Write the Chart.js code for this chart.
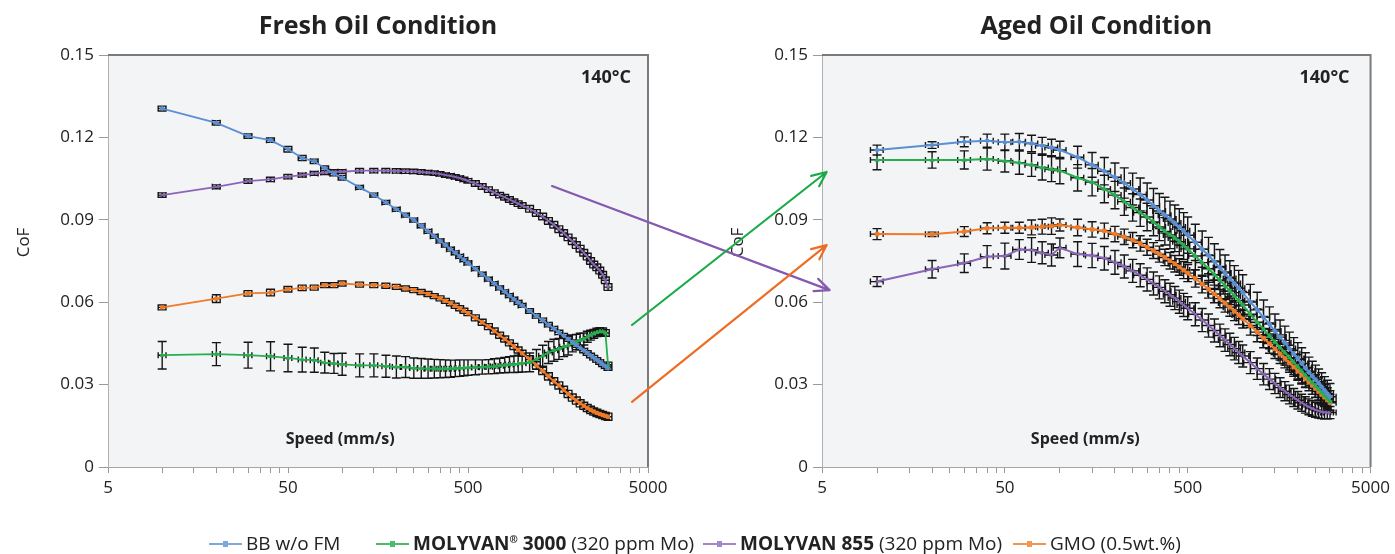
<!DOCTYPE html>
<html>
<head>
<meta charset="UTF-8">
<title>CoF vs Speed - fresh and aged oil</title>
<script src="https://cdn.jsdelivr.net/npm/chart.js@4.4.1/dist/chart.umd.min.js"></script>
<style>
  body { margin: 0; background: #fff; font-family: 'Open Sans', sans-serif; }
  #wrap { position: relative; width: 1395px; height: 554px; overflow: hidden; }
  canvas { position: absolute; top: 0; }
  #fresh { left: 0; }
  #aged { left: 700px; }
  #arrows { left: 0; pointer-events: none; }
  .item { position: absolute; top: 531px; height: 24px; font-size: 19px; color: #222; white-space: nowrap; line-height: 24px; }
  .item sup { font-size: 10px; line-height: 0; vertical-align: 7px; }
  .sw { display: inline-block; position: relative; width: 33px; height: 2px; vertical-align: middle; margin-right: 4px; margin-top: -2px; }
  .sw::after { content: ''; position: absolute; left: 14px; top: -2px; width: 5px; height: 6px; background: inherit; }
</style>
</head>
<body>
<div id="wrap">
  <canvas id="fresh" width="700" height="510"></canvas>
  <canvas id="aged" width="695" height="510"></canvas>
  <canvas id="arrows" width="1395" height="554"></canvas>

  <span class="item" style="left:209px"><i class="sw" style="background:#7ea8dd"></i>BB w/o FM</span>
  <span class="item" style="left:376px"><i class="sw" style="background:#4cbc6c"></i><b>MOLYVAN<sup>®</sup> 3000</b> (320 ppm Mo)</span>
  <span class="item" style="left:703px"><i class="sw" style="background:#a387cc"></i><b>MOLYVAN 855</b> (320 ppm Mo)</span>
  <span class="item" style="left:1013px"><i class="sw" style="background:#f5954f"></i>GMO (0.5wt.%)</span>
</div>

<script>
  // speeds in mm/s (same sweep for all runs)
  const speeds = [10,20,30,40,50,60,70,80,90,100,
    125,150,175,200,225,250,275,300,325,350,375,400,425,450,475,500,
    550,600,650,700,750,800,850,900,950,1000,
    1100,1200,1300,1400,1500,1600,1700,1800,1900,2000,2100,2200,2300,2400,2500,2600,2700,2800,2900,3000];

  const xTicks = [5,10,15,20,25,30,35,40,45,50,100,150,200,250,300,350,400,450,500,
    1000,1500,2000,2500,3000,3500,4000,4500,5000];
  const xTickLabels = [5, 50, 500, 5000];
  const yTicks = [0, 0.03, 0.06, 0.09, 0.12, 0.15];
  const yTickLabels = ['0', '0.03', '0.06', '0.09', '0.12', '0.15'];

  // ---- fresh oil ----
  const freshBB = [0.1305,0.1253,0.1205,0.1190,0.1157,0.1125,0.1113,0.1088,0.1068,0.1053,
    0.1018,0.0990,0.0963,0.0938,0.0917,0.0899,0.0878,0.0858,0.0840,0.0823,0.0808,0.0793,0.0780,0.0767,0.0755,0.0743,
    0.0722,0.0702,0.0684,0.0668,0.0652,0.0638,0.0624,0.0611,0.0599,0.0588,
    0.0568,0.0550,0.0534,0.0518,0.0504,0.0490,0.0478,0.0466,0.0455,0.0444,0.0434,0.0424,0.0415,0.0406,0.0398,0.0390,0.0382,0.0374,0.0367,0.0360];
  const freshBBErr = [0.0009,0.0008,0.0008,0.0008,0.0010,0.0009,0.0008,0.0008,0.0008,0.0008,
    0.0007,0.0007,0.0007,0.0007,0.0007,0.0007,0.0007,0.0007,0.0007,0.0007,0.0007,0.0007,0.0007,0.0007,0.0007,0.0007,
    0.0007,0.0007,0.0007,0.0007,0.0007,0.0007,0.0007,0.0007,0.0007,0.0007,
    0.0008,0.0008,0.0008,0.0008,0.0008,0.0008,0.0008,0.0008,0.0008,0.0008,0.0008,0.0008,0.0008,0.0008,0.0008,0.0008,0.0008,0.0008,0.0008,0.0008];

  const freshM3000 = [0.0407,0.0411,0.0407,0.0403,0.0397,0.0391,0.0389,0.0380,0.0377,0.0374,
    0.0370,0.0370,0.0367,0.0364,0.0364,0.0360,0.0359,0.0358,0.0358,0.0358,0.0358,0.0358,0.0359,0.0360,0.0361,0.0362,
    0.0363,0.0364,0.0365,0.0367,0.0369,0.0371,0.0373,0.0374,0.0376,0.0378,
    0.0381,0.0392,0.0405,0.0417,0.0425,0.0430,0.0438,0.0442,0.0450,0.0455,0.0462,0.0466,0.0474,0.0480,0.0485,0.0490,0.0493,0.0493,0.0488,0.0372];
  const freshM3000Err = [0.0050,0.0042,0.0047,0.0053,0.0050,0.0045,0.0044,0.0038,0.0036,0.0040,
    0.0042,0.0042,0.0040,0.0040,0.0038,0.0037,0.0036,0.0035,0.0034,0.0033,0.0032,0.0031,0.0030,0.0030,0.0029,0.0028,
    0.0027,0.0026,0.0026,0.0027,0.0027,0.0028,0.0029,0.0030,0.0031,0.0032,
    0.0034,0.0036,0.0038,0.0040,0.0040,0.0038,0.0036,0.0034,0.0031,0.0028,0.0025,0.0022,0.0020,0.0018,0.0016,0.0015,0.0014,0.0013,0.0012,0.0010];

  const freshM855 = [0.0990,0.1020,0.1041,0.1047,0.1057,0.1063,0.1069,0.1072,0.1075,0.1075,
    0.1079,0.1079,0.1079,0.1078,0.1077,0.1076,0.1074,0.1072,0.1070,0.1067,0.1063,0.1060,0.1056,0.1052,0.1047,0.1042,
    0.1032,0.1021,0.1010,0.0999,0.0990,0.0982,0.0974,0.0966,0.0959,0.0952,
    0.0940,0.0925,0.0912,0.0896,0.0882,0.0866,0.0852,0.0836,0.0822,0.0808,0.0795,0.0780,0.0766,0.0750,0.0737,0.0727,0.0715,0.0700,0.0680,0.0655];
  const freshM855Err = [0.0008,0.0007,0.0008,0.0008,0.0008,0.0007,0.0007,0.0007,0.0007,0.0007,
    0.0008,0.0008,0.0008,0.0008,0.0008,0.0008,0.0008,0.0008,0.0008,0.0008,0.0008,0.0008,0.0008,0.0008,0.0008,0.0008,
    0.0010,0.0010,0.0010,0.0010,0.0010,0.0010,0.0010,0.0010,0.0010,0.0010,
    0.0012,0.0012,0.0012,0.0012,0.0012,0.0012,0.0012,0.0012,0.0012,0.0012,0.0012,0.0012,0.0012,0.0012,0.0012,0.0012,0.0012,0.0012,0.0012,0.0012];

  const freshGMO = [0.0581,0.0613,0.0632,0.0635,0.0647,0.0652,0.0653,0.0662,0.0662,0.0668,
    0.0664,0.0662,0.0660,0.0656,0.0650,0.0644,0.0637,0.0630,0.0622,0.0614,0.0605,0.0596,0.0587,0.0578,0.0569,0.0560,
    0.0543,0.0527,0.0511,0.0495,0.0480,0.0466,0.0452,0.0439,0.0426,0.0414,
    0.0392,0.0370,0.0350,0.0330,0.0312,0.0297,0.0281,0.0266,0.0253,0.0242,0.0232,0.0223,0.0215,0.0208,0.0202,0.0197,0.0193,0.0189,0.0186,0.0183];
  const freshGMOErr = [0.0009,0.0014,0.0010,0.0012,0.0010,0.0010,0.0009,0.0009,0.0009,0.0009,
    0.0009,0.0009,0.0009,0.0009,0.0009,0.0009,0.0009,0.0009,0.0009,0.0009,0.0009,0.0009,0.0009,0.0009,0.0009,0.0009,
    0.0011,0.0011,0.0011,0.0011,0.0011,0.0011,0.0011,0.0011,0.0011,0.0011,
    0.0013,0.0013,0.0013,0.0013,0.0013,0.0013,0.0013,0.0013,0.0013,0.0013,0.0013,0.0013,0.0013,0.0013,0.0013,0.0013,0.0013,0.0013,0.0013,0.0013];

  // ---- aged oil ----
  const agedBB = [0.1154,0.1172,0.1184,0.1188,0.1182,0.1184,0.1178,0.1170,0.1163,0.1154,
    0.1128,0.1100,0.1077,0.1055,0.1034,0.1012,0.0992,0.0972,0.0951,0.0932,0.0917,0.0903,0.0888,0.0874,0.0860,0.0844,
    0.0818,0.0793,0.0770,0.0747,0.0726,0.0706,0.0686,0.0668,0.0651,0.0635,
    0.0601,0.0572,0.0545,0.0520,0.0495,0.0473,0.0452,0.0431,0.0412,0.0395,0.0377,0.0360,0.0345,0.0331,0.0318,0.0305,0.0292,0.0279,0.0267,0.0256];
  const agedBBErr = [0.0018,0.0012,0.0018,0.0024,0.0030,0.0030,0.0030,0.0030,0.0030,0.0032,
    0.0040,0.0045,0.0050,0.0052,0.0055,0.0058,0.0060,0.0062,0.0063,0.0064,0.0065,0.0065,0.0066,0.0066,0.0066,0.0066,
    0.0066,0.0066,0.0066,0.0066,0.0066,0.0066,0.0065,0.0065,0.0065,0.0065,
    0.0064,0.0064,0.0063,0.0063,0.0062,0.0062,0.0061,0.0060,0.0059,0.0058,0.0057,0.0056,0.0055,0.0054,0.0053,0.0052,0.0051,0.0050,0.0049,0.0048];

  const agedM3000 = [0.1118,0.1118,0.1118,0.1121,0.1114,0.1108,0.1100,0.1090,0.1084,0.1079,
    0.1053,0.1037,0.1012,0.0990,0.0966,0.0945,0.0926,0.0910,0.0892,0.0874,0.0858,0.0845,0.0834,0.0820,0.0806,0.0794,
    0.0768,0.0744,0.0722,0.0700,0.0680,0.0660,0.0641,0.0623,0.0606,0.0590,
    0.0556,0.0527,0.0501,0.0477,0.0455,0.0435,0.0416,0.0398,0.0381,0.0365,0.0349,0.0334,0.0320,0.0307,0.0295,0.0283,0.0271,0.0260,0.0249,0.0238];
  const agedM3000Err = [0.0036,0.0030,0.0033,0.0040,0.0040,0.0042,0.0042,0.0045,0.0045,0.0048,
    0.0048,0.0050,0.0050,0.0050,0.0050,0.0050,0.0050,0.0050,0.0050,0.0050,0.0050,0.0050,0.0050,0.0050,0.0050,0.0050,
    0.0050,0.0050,0.0050,0.0050,0.0050,0.0050,0.0050,0.0050,0.0049,0.0049,
    0.0048,0.0048,0.0047,0.0047,0.0046,0.0046,0.0045,0.0045,0.0044,0.0044,0.0043,0.0043,0.0042,0.0042,0.0041,0.0041,0.0040,0.0040,0.0040,0.0040];

  const agedM855 = [0.0675,0.0720,0.0742,0.0766,0.0768,0.0792,0.0790,0.0780,0.0772,0.0798,
    0.0775,0.0770,0.0760,0.0745,0.0730,0.0714,0.0698,0.0683,0.0668,0.0654,0.0640,0.0627,0.0615,0.0602,0.0590,0.0578,
    0.0556,0.0535,0.0515,0.0497,0.0479,0.0462,0.0446,0.0431,0.0417,0.0404,
    0.0380,0.0358,0.0338,0.0320,0.0304,0.0289,0.0276,0.0264,0.0253,0.0243,0.0234,0.0226,0.0219,0.0213,0.0208,0.0204,0.0201,0.0199,0.0198,0.0198];
  const agedM855Err = [0.0018,0.0032,0.0034,0.0040,0.0047,0.0036,0.0045,0.0040,0.0040,0.0036,
    0.0045,0.0044,0.0043,0.0043,0.0042,0.0042,0.0042,0.0042,0.0042,0.0042,0.0042,0.0042,0.0042,0.0042,0.0042,0.0042,
    0.0042,0.0042,0.0042,0.0042,0.0041,0.0041,0.0041,0.0041,0.0040,0.0040,
    0.0040,0.0039,0.0039,0.0038,0.0037,0.0036,0.0035,0.0034,0.0033,0.0032,0.0031,0.0030,0.0029,0.0028,0.0027,0.0026,0.0025,0.0024,0.0023,0.0022];

  const agedGMO = [0.0848,0.0847,0.0857,0.0869,0.0871,0.0871,0.0872,0.0875,0.0877,0.0881,
    0.0872,0.0865,0.0860,0.0848,0.0838,0.0826,0.0814,0.0800,0.0788,0.0775,0.0763,0.0751,0.0740,0.0728,0.0717,0.0706,
    0.0686,0.0666,0.0647,0.0630,0.0613,0.0597,0.0582,0.0567,0.0553,0.0540,
    0.0515,0.0491,0.0469,0.0449,0.0430,0.0412,0.0395,0.0379,0.0364,0.0349,0.0335,0.0322,0.0309,0.0297,0.0286,0.0275,0.0264,0.0254,0.0244,0.0234];
  const agedGMOErr = [0.0020,0.0008,0.0018,0.0020,0.0020,0.0020,0.0027,0.0027,0.0030,0.0022,
    0.0030,0.0028,0.0028,0.0028,0.0028,0.0028,0.0028,0.0029,0.0029,0.0029,0.0030,0.0030,0.0030,0.0030,0.0031,0.0031,
    0.0031,0.0032,0.0032,0.0032,0.0033,0.0033,0.0033,0.0034,0.0034,0.0034,
    0.0035,0.0035,0.0035,0.0035,0.0035,0.0035,0.0034,0.0034,0.0034,0.0033,0.0033,0.0033,0.0032,0.0032,0.0032,0.0031,0.0031,0.0030,0.0030,0.0030];

  // series look (first one is drawn on top)
  const seriesNames = ['BB w/o FM', 'MOLYVAN 3000 (320 ppm Mo)', 'MOLYVAN 855 (320 ppm Mo)', 'GMO (0.5wt.%)'];
  const seriesColors = ['#5b8fd4', '#27ae4f', '#8b66b8', '#f07a26'];
  const seriesMarkers = ['rectRot', 'triangle', 'crossRot', 'rect'];

  // arrows: [panel index, speed, CoF]
  const arrows = [
    { color: '#8559b0', from: [0, 1465, 0.1023], to: [1, 5.5, 0.0644] },
    { color: '#1aab48', from: [0, 4076, 0.0517], to: [1, 5.3, 0.1074] },
    { color: '#ee6d24', from: [0, 4076, 0.0237], to: [1, 5.3, 0.0808] }
  ];

  Chart.defaults.font.family = "'Open Sans', sans-serif";
  Chart.defaults.color = '#222';

  const panelPlugin = {
    id: 'panel',
    beforeDraw(chart, args, o) {
      const { ctx, chartArea: a } = chart;
      ctx.save();
      ctx.fillStyle = '#f3f4f6';
      ctx.fillRect(a.left, a.top, a.right - a.left, a.bottom - a.top);
      ctx.restore();
    },
    beforeDatasetsDraw(chart, args, o) {
      // error bars (y, and small x bars) under the lines
      const { ctx, chartArea: a, scales: { x, y } } = chart;
      ctx.save();
      ctx.beginPath();
      ctx.rect(a.left, a.top, a.right - a.left, a.bottom - a.top);
      ctx.clip();
      ctx.strokeStyle = '#151515';
      ctx.lineWidth = o.errWidth;
      ctx.beginPath();
      chart.data.datasets.forEach(ds => {
        ds.data.forEach((p, i) => {
          const e = ds.yErr[i];
          const px = x.getPixelForValue(p.x), py = y.getPixelForValue(p.y);
          const t = y.getPixelForValue(p.y + e), b = y.getPixelForValue(p.y - e);
          ctx.moveTo(px, t); ctx.lineTo(px, b);
          ctx.moveTo(px - o.cap, t); ctx.lineTo(px + o.cap, t);
          ctx.moveTo(px - o.cap, b); ctx.lineTo(px + o.cap, b);
          const l = x.getPixelForValue(p.x * (1 - o.xErr)), r = x.getPixelForValue(p.x * (1 + o.xErr));
          ctx.moveTo(l, py); ctx.lineTo(r, py);
          ctx.moveTo(l, py - 3); ctx.lineTo(l, py + 3);
          ctx.moveTo(r, py - 3); ctx.lineTo(r, py + 3);
        });
      });
      ctx.stroke();
      ctx.restore();
    },
    afterDraw(chart, args, o) {
      const { ctx, chartArea: a } = chart;
      ctx.save();
      ctx.strokeStyle = '#7a7a7a';
      ctx.lineWidth = 2;
      ctx.beginPath();
      ctx.moveTo(a.left, a.top); ctx.lineTo(a.right, a.top); ctx.lineTo(a.right, a.bottom);
      ctx.stroke();

      ctx.fillStyle = '#222';
      ctx.textAlign = 'center';
      ctx.textBaseline = 'middle';
      ctx.font = "bold 25px 'Open Sans', sans-serif";
      ctx.fillText(o.title, (a.left + a.right) / 2, 27);

      ctx.textAlign = 'right';
      ctx.font = "bold 18px 'Open Sans', sans-serif";
      ctx.fillText('140°C', a.right - o.tempInset, a.top + 23);

      ctx.textAlign = 'center';
      ctx.font = "bold 16px 'Open Sans', sans-serif";
      ctx.fillText('Speed (mm/s)', a.left + (a.right - a.left) * o.speedAt, a.bottom - 28);

      ctx.translate(a.left - 84, a.top + (a.bottom - a.top) * 0.455);
      ctx.rotate(-Math.PI / 2);
      ctx.font = "17px 'Open Sans', sans-serif";
      ctx.fillText('CoF', 0, 0);
      ctx.restore();
    }
  };

  function makeChart(id, panel, values, errors) {
    const datasets = values.map((vals, k) => ({
      label: seriesNames[k],
      data: speeds.map((s, i) => ({ x: s, y: vals[i] })),
      yErr: errors[k],
      borderColor: seriesColors[k],
      backgroundColor: seriesColors[k],
      borderWidth: panel.lineWidth,
      pointStyle: seriesMarkers[k],
      pointRadius: panel.pointRadius,
      pointBorderWidth: 1,
      tension: 0
    }));
    return new Chart(document.getElementById(id), {
      type: 'line',
      data: { datasets },
      options: {
        responsive: false,
        animation: false,
        events: [],
        layout: { padding: { top: 55, right: panel.padRight, bottom: 0, left: 0 } },
        plugins: { legend: { display: false }, tooltip: { enabled: false }, panel },
        scales: {
          x: {
            type: 'logarithmic', min: 5, max: 5000,
            afterBuildTicks: s => { s.ticks = xTicks.map(v => ({ value: v })); },
            afterFit: s => { s.height = 43; },
            ticks: {
              autoSkip: false, maxRotation: 0, minRotation: 0, padding: 5,
              font: { size: 17 }, color: '#222',
              callback: v => xTickLabels.includes(v) ? String(v) : ''
            },
            grid: { drawOnChartArea: false, tickLength: 6, color: '#9a9a9a' },
            border: { color: '#a5a5a5', width: 1 }
          },
          y: {
            min: 0, max: 0.15,
            afterBuildTicks: s => { s.ticks = yTicks.map(v => ({ value: v })); },
            afterFit: s => { s.width = panel.axisWidth; },
            ticks: { padding: 5, font: { size: 17 }, color: '#222', callback: (v, i) => yTickLabels[i] },
            grid: { drawOnChartArea: false, tickLength: 9, color: '#9a9a9a' },
            border: { color: '#b0b0b0', width: 1 }
          }
        }
      },
      plugins: [panelPlugin]
    });
  }

  const freshChart = makeChart('fresh',
    { title: 'Fresh Oil Condition', axisWidth: 108, padRight: 52, speedAt: 0.43, tempInset: 17,
      xErr: 0.05, cap: 4.5, errWidth: 1.4, lineWidth: 1.8, pointRadius: 2.3 },
    [freshBB, freshM3000, freshM855, freshGMO],
    [freshBBErr, freshM3000Err, freshM855Err, freshGMOErr]);

  const agedChart = makeChart('aged',
    { title: 'Aged Oil Condition', axisWidth: 122, padRight: 20, speedAt: 0.48, tempInset: 21,
      xErr: 0.08, cap: 4.5, errWidth: 1.4, lineWidth: 2, pointRadius: 2.5 },
    [agedBB, agedM3000, agedM855, agedGMO],
    [agedBBErr, agedM3000Err, agedM855Err, agedGMOErr]);

  function drawArrows() {
    const ctx = document.getElementById('arrows').getContext('2d');
    const charts = [freshChart, agedChart];
    const offsets = [0, 700];
    const toPx = e => [offsets[e[0]] + charts[e[0]].scales.x.getPixelForValue(e[1]),
                       charts[e[0]].scales.y.getPixelForValue(e[2])];
    arrows.forEach(a => {
      const [x1, y1] = toPx(a.from), [x2, y2] = toPx(a.to);
      const ang = Math.atan2(y2 - y1, x2 - x1);
      ctx.strokeStyle = a.color;
      ctx.lineWidth = 2.2;
      ctx.lineCap = 'round';
      ctx.beginPath();
      ctx.moveTo(x1, y1); ctx.lineTo(x2, y2);
      ctx.moveTo(x2, y2); ctx.lineTo(x2 - 16 * Math.cos(ang - 0.42), y2 - 16 * Math.sin(ang - 0.42));
      ctx.moveTo(x2, y2); ctx.lineTo(x2 - 16 * Math.cos(ang + 0.42), y2 - 16 * Math.sin(ang + 0.42));
      ctx.stroke();
    });
  }
  drawArrows();
</script>
</body>
</html>
